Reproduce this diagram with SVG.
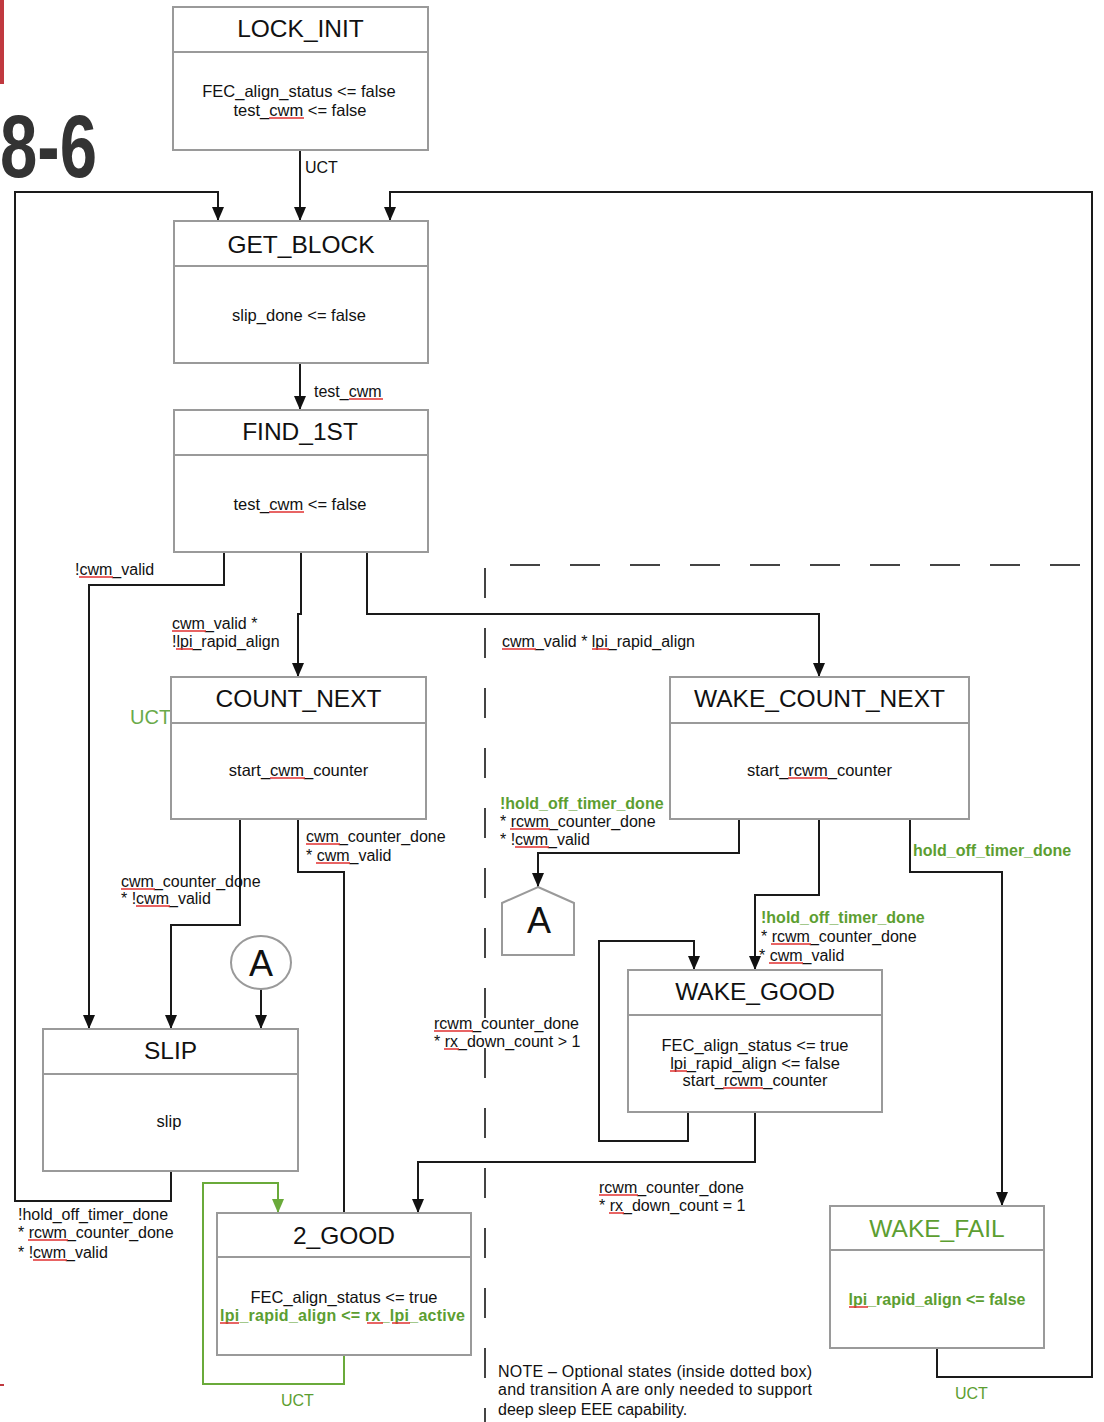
<svg xmlns="http://www.w3.org/2000/svg" width="1104" height="1422" viewBox="0 0 1104 1422">
<style>
text{font-family:"Liberation Sans",Arial,sans-serif;fill:#111}
.box{fill:#fff;stroke:#9a9a9a;stroke-width:2}
.t{font-size:24.5px;text-anchor:middle}
.bd{font-size:16.5px;text-anchor:middle}
.l{font-size:16px}
.g{fill:#5c9e31}
.b{font-weight:bold}
.c{fill:none;stroke:#1a1a1a;stroke-width:2}
.gc{fill:none;stroke:#6aaa3a;stroke-width:2}
.sq{stroke:#e03030;stroke-width:1.5;fill:none}
.dash{fill:none;stroke:#444;stroke-width:2;stroke-dasharray:30 30}
</style>
<defs>
<marker id="arr" markerUnits="userSpaceOnUse" markerWidth="14" markerHeight="12" refX="14" refY="6" orient="auto"><path d="M0,0 L14,6 L0,12 z" fill="#111"/></marker>
<marker id="garr" markerUnits="userSpaceOnUse" markerWidth="14" markerHeight="12" refX="14" refY="6" orient="auto"><path d="M0,0 L14,6 L0,12 z" fill="#6aaa3a"/></marker>
</defs>
<rect width="1104" height="1422" fill="#fff"/>
<!-- page decorations -->
<rect x="0" y="0" width="4" height="84" fill="#c0393f"/>
<rect x="0" y="1384" width="4" height="2" fill="#c0393f"/>
<text x="0" y="177" font-size="89" font-weight="bold" style="fill:#333" textLength="97" lengthAdjust="spacingAndGlyphs">8-6</text>
<!-- optional region dashed box -->
<g id="optional-region">
<path class="dash" d="M510,565 H1085"/>
<path class="dash" d="M485,568 V1422"/>
</g>
<!-- connectors -->
<g id="connectors">
<path class="c" d="M300,150 V221" marker-end="url(#arr)"/>
<path class="c" d="M171,1171 V1201 H15 V192 H218 V221" marker-end="url(#arr)"/>
<path class="c" d="M937,1348 V1377 H1092 V192 H390 V221" marker-end="url(#arr)"/>
<path class="c" d="M300,363 V410" marker-end="url(#arr)"/>
<path class="c" d="M224,552 V585 H89 V1029" marker-end="url(#arr)"/>
<path class="c" d="M301,552 V614 H298 V677" marker-end="url(#arr)"/>
<path class="c" d="M367,552 V614 H819 V677" marker-end="url(#arr)"/>
<path class="c" d="M240,819 V925 H171 V1029" marker-end="url(#arr)"/>
<path class="c" d="M298,819 V872 H344 V1213"/>
<path class="c" d="M261,989 V1029" marker-end="url(#arr)"/>
<path class="gc" d="M344,1355 V1384 H203 V1183 H278 V1213" marker-end="url(#garr)"/>
<path class="c" d="M739,819 V853 H538 V887" marker-end="url(#arr)"/>
<path class="c" d="M819,819 V895 H755 V970" marker-end="url(#arr)"/>
<path class="c" d="M910,819 V872 H1002 V1206" marker-end="url(#arr)"/>
<path class="c" d="M688,1112 V1141 H599 V941 H694 V970" marker-end="url(#arr)"/>
<path class="c" d="M755,1112 V1162 H418 V1213" marker-end="url(#arr)"/>
<!-- transition labels -->
<text class="l" x="305" y="173">UCT</text>
<text class="l" x="314" y="397">test_cwm</text>
<text class="l" x="75" y="575">!cwm_valid</text>
<text class="l" x="172" y="629">cwm_valid *</text>
<text class="l" x="172" y="647">!lpi_rapid_align</text>
<text class="l" x="502" y="647">cwm_valid * lpi_rapid_align</text>
<text x="130" y="724" font-size="20" style="fill:#6aaa4a">UCT</text>
<text class="l" x="306" y="842">cwm_counter_done</text>
<text class="l" x="306" y="861">* cwm_valid</text>
<text class="l" x="121" y="887">cwm_counter_done</text>
<text class="l" x="121" y="904">* !cwm_valid</text>
<text class="l g b" x="500" y="809">!hold_off_timer_done</text>
<text class="l" x="500" y="827">* rcwm_counter_done</text>
<text class="l" x="500" y="845">* !cwm_valid</text>
<text class="l g b" x="913" y="856">hold_off_timer_done</text>
<text class="l g b" x="761" y="923">!hold_off_timer_done</text>
<text class="l" x="761" y="942">* rcwm_counter_done</text>
<text class="l" x="759" y="961">* cwm_valid</text>
<text class="l" x="434" y="1029">rcwm_counter_done</text>
<text class="l" x="434" y="1047">* rx_down_count &gt; 1</text>
<text class="l" x="599" y="1193">rcwm_counter_done</text>
<text class="l" x="599" y="1211">* rx_down_count = 1</text>
<text class="l" x="18" y="1220">!hold_off_timer_done</text>
<text class="l" x="18" y="1238">* rcwm_counter_done</text>
<text class="l" x="18" y="1258">* !cwm_valid</text>
<text class="l g" x="281" y="1406">UCT</text>
<text class="l g" x="955" y="1399">UCT</text>
</g>
<!-- nodes -->
<g id="LOCK_INIT">
<rect class="box" x="173" y="7" width="255" height="143"/>
<path class="box" d="M173,52 H428"/>
<text class="t" x="300.5" y="37">LOCK_INIT</text>
<text class="bd" x="299" y="97">FEC_align_status &lt;= false</text>
<text class="bd" x="300" y="116">test_cwm &lt;= false</text>
</g>
<g id="GET_BLOCK">
<rect class="box" x="174" y="221" width="254" height="142"/>
<path class="box" d="M174,266 H428"/>
<text class="t" x="301" y="253">GET_BLOCK</text>
<text class="bd" x="299" y="321">slip_done &lt;= false</text>
</g>
<g id="FIND_1ST">
<rect class="box" x="174" y="410" width="254" height="142"/>
<path class="box" d="M174,455 H428"/>
<text class="t" x="300" y="440">FIND_1ST</text>
<text class="bd" x="300" y="510">test_cwm &lt;= false</text>
</g>
<g id="COUNT_NEXT">
<rect class="box" x="171" y="677" width="255" height="142"/>
<path class="box" d="M171,723 H426"/>
<text class="t" x="298.5" y="707">COUNT_NEXT</text>
<text class="bd" x="298.5" y="776">start_cwm_counter</text>
</g>
<g id="WAKE_COUNT_NEXT">
<rect class="box" x="670" y="677" width="299" height="142"/>
<path class="box" d="M670,723 H969"/>
<text class="t" x="819.5" y="707">WAKE_COUNT_NEXT</text>
<text class="bd" x="819.5" y="776">start_rcwm_counter</text>
</g>
<g id="A_in">
<ellipse cx="261" cy="962.5" rx="30" ry="26.5" fill="#fff" stroke="#9a9a9a" stroke-width="2"/>
<text x="261" y="976" font-size="36" text-anchor="middle">A</text>
</g>
<g id="A_out">
<path d="M538,887 L574,903 V955 H502 V903 Z" fill="#fff" stroke="#9a9a9a" stroke-width="2"/>
<text x="539" y="933" font-size="36" text-anchor="middle">A</text>
</g>
<g id="SLIP">
<rect class="box" x="43" y="1029" width="255" height="142"/>
<path class="box" d="M43,1074 H298"/>
<text class="t" x="170.5" y="1059">SLIP</text>
<text class="bd" x="169" y="1127">slip</text>
</g>
<g id="WAKE_GOOD">
<rect class="box" x="628" y="970" width="254" height="142"/>
<path class="box" d="M628,1015 H882"/>
<text class="t" x="755" y="1000">WAKE_GOOD</text>
<text class="bd" x="755" y="1051">FEC_align_status &lt;= true</text>
<text class="bd" x="755" y="1069">lpi_rapid_align &lt;= false</text>
<text class="bd" x="755" y="1086">start_rcwm_counter</text>
</g>
<g id="TWO_GOOD">
<rect class="box" x="217" y="1213" width="254" height="142"/>
<path class="box" d="M217,1257 H471"/>
<text class="t" x="344" y="1244">2_GOOD</text>
<text class="bd" x="344" y="1303">FEC_align_status &lt;= true</text>
<text class="g b" x="220" y="1321" font-size="16" textLength="245" lengthAdjust="spacing">lpi_rapid_align &lt;= rx_lpi_active</text>
</g>
<g id="WAKE_FAIL">
<rect class="box" x="830" y="1206" width="214" height="142"/>
<path class="box" d="M830,1250 H1044"/>
<text class="t g" x="937" y="1237">WAKE_FAIL</text>
<text class="bd g b" x="937" y="1305" style="font-size:16px">lpi_rapid_align &lt;= false</text>
</g>
<g id="note">
<text class="l" x="498" y="1377" textLength="314" lengthAdjust="spacing">NOTE – Optional states (inside dotted box)</text>
<text class="l" x="498" y="1395" textLength="314" lengthAdjust="spacing">and transition A are only needed to support</text>
<text class="l" x="498" y="1415">deep sleep EEE capability.</text>
</g>
<!-- spell-check squiggles -->
<g id="squiggles" class="sq">
<path d="M269,118 H304"/>
<path d="M349,399 H383"/>
<path d="M269,512 H304"/>
<path d="M79,577 H113"/>
<path d="M172,631 H206"/>
<path d="M176,649 H193"/>
<path d="M502,649 H536"/>
<path d="M592,649 H609"/>
<path d="M270,778 H305"/>
<path d="M788,778 H828"/>
<path d="M510,829 H550"/>
<path d="M515,847 H549"/>
<path d="M306,844 H340"/>
<path d="M316,863 H350"/>
<path d="M121,889 H155"/>
<path d="M136,906 H170"/>
<path d="M771,944 H811"/>
<path d="M769,963 H803"/>
<path d="M670,1071 H687"/>
<path d="M723,1088 H763"/>
<path d="M434,1031 H473"/>
<path d="M444,1049 H459"/>
<path d="M599,1195 H638"/>
<path d="M609,1213 H624"/>
<path d="M28,1240 H68"/>
<path d="M33,1260 H67"/>
<path d="M220,1323 H239"/>
<path d="M367,1323 H383"/>
<path d="M392,1323 H410"/>
<path d="M849,1307 H868"/>
</g>
</svg>
